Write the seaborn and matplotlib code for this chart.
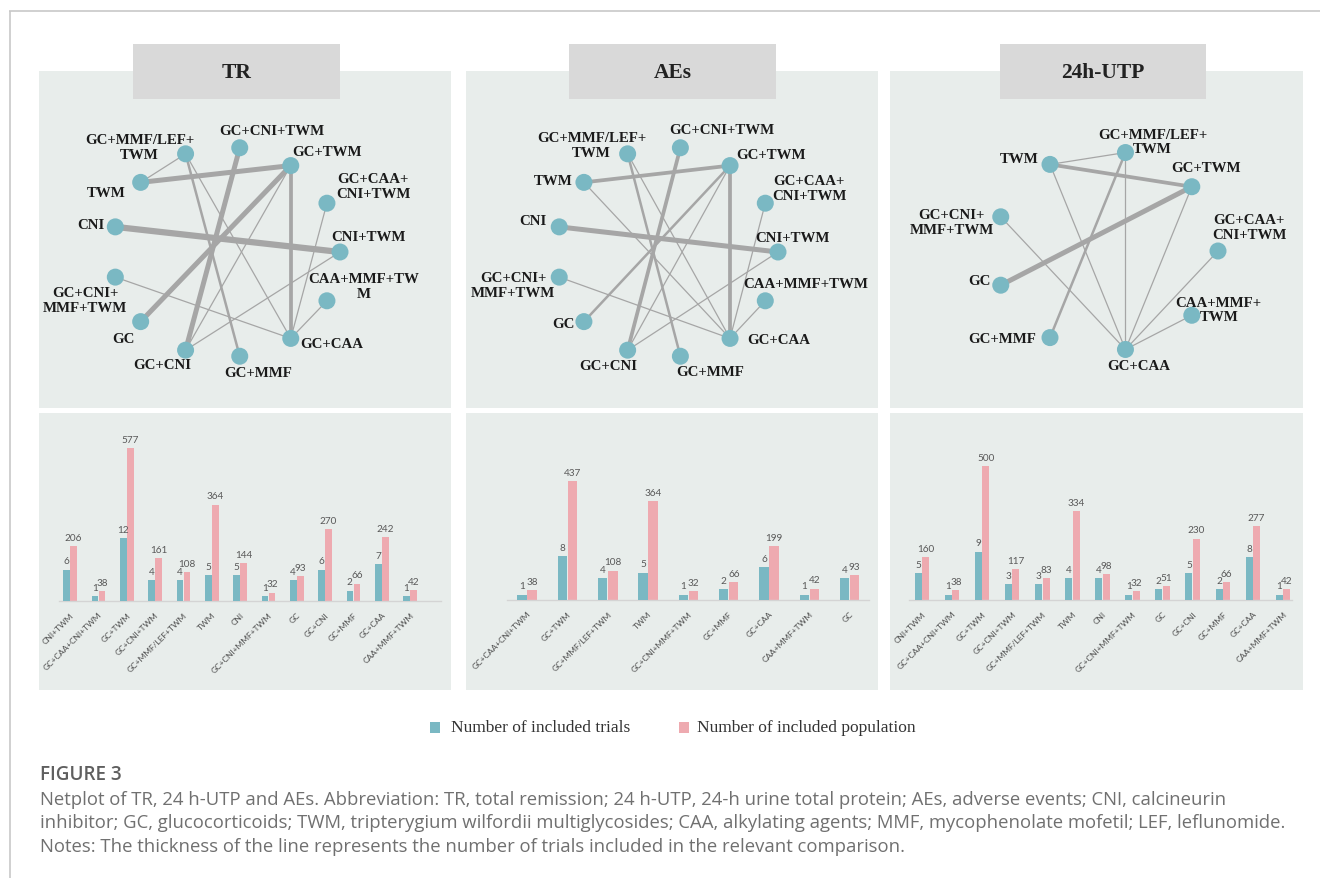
import numpy as np
import matplotlib
matplotlib.use("Agg")
import matplotlib.pyplot as plt
from matplotlib.patches import Rectangle
import seaborn as sns

# ---------------- data ----------------
tr_treatments = ["CNI+TWM", "GC+CAA+CNI+TWM", "GC+TWM", "GC+CNI+TWM", "GC+MMF/LEF+TWM",
                 "TWM", "CNI", "GC+CNI+MMF+TWM", "GC", "GC+CNI", "GC+MMF", "GC+CAA",
                 "CAA+MMF+TWM"]
tr_trials = [6, 1, 12, 4, 4, 5, 5, 1, 4, 6, 2, 7, 1]
tr_population = [206, 38, 577, 161, 108, 364, 144, 32, 93, 270, 66, 242, 42]

ae_treatments = ["GC+CAA+CNI+TWM", "GC+TWM", "GC+MMF/LEF+TWM", "TWM", "GC+CNI+MMF+TWM",
                 "GC+MMF", "GC+CAA", "CAA+MMF+TWM", "GC"]
ae_trials = [1, 8, 4, 5, 1, 2, 6, 1, 4]
ae_population = [38, 437, 108, 364, 32, 66, 199, 42, 93]

utp_treatments = ["CNI+TWM", "GC+CAA+CNI+TWM", "GC+TWM", "GC+CNI+TWM", "GC+MMF/LEF+TWM",
                  "TWM", "CNI", "GC+CNI+MMF+TWM", "GC", "GC+CNI", "GC+MMF", "GC+CAA",
                  "CAA+MMF+TWM"]
utp_trials = [5, 1, 9, 3, 3, 4, 4, 1, 2, 5, 2, 8, 1]
utp_population = [160, 38, 500, 117, 83, 334, 98, 32, 51, 230, 66, 277, 42]

# network nodes, listed counter-clockwise starting from the right-hand side
tr_nodes = ["CNI+TWM", "GC+CAA+CNI+TWM", "GC+TWM", "GC+CNI+TWM", "GC+MMF/LEF+TWM", "TWM",
            "CNI", "GC+CNI+MMF+TWM", "GC", "GC+CNI", "GC+MMF", "GC+CAA", "CAA+MMF+TWM"]
ae_nodes = tr_nodes
utp_nodes = ["GC+CAA+CNI+TWM", "GC+TWM", "GC+MMF/LEF+TWM", "TWM", "GC+CNI+MMF+TWM", "GC",
             "GC+MMF", "GC+CAA", "CAA+MMF+TWM"]

# comparisons: (treatment A, treatment B, number of trials)
tr_edges = [("TWM", "GC+MMF/LEF+TWM", 1), ("TWM", "GC+TWM", 4),
            ("GC+MMF/LEF+TWM", "GC+MMF", 2), ("GC+MMF/LEF+TWM", "GC+CAA", 1),
            ("GC+CNI+TWM", "GC+CNI", 4), ("GC+TWM", "GC", 4), ("GC+TWM", "GC+CAA", 3),
            ("GC+TWM", "GC+CNI", 1), ("GC+CAA+CNI+TWM", "GC+CAA", 1), ("CNI", "CNI+TWM", 5),
            ("CNI+TWM", "GC+CNI", 1), ("GC+CNI+MMF+TWM", "GC+CAA", 1),
            ("CAA+MMF+TWM", "GC+CAA", 1)]
ae_edges = [("TWM", "GC+TWM", 3), ("TWM", "GC+CAA", 1),
            ("GC+MMF/LEF+TWM", "GC+MMF", 2), ("GC+MMF/LEF+TWM", "GC+CAA", 1),
            ("GC+CNI+TWM", "GC+CNI", 3), ("GC+TWM", "GC", 2), ("GC+TWM", "GC+CAA", 3),
            ("GC+TWM", "GC+CNI", 1), ("GC+CAA+CNI+TWM", "GC+CAA", 1), ("CNI", "CNI+TWM", 4),
            ("CNI+TWM", "GC+CNI", 1), ("GC+CNI+MMF+TWM", "GC+CAA", 1),
            ("CAA+MMF+TWM", "GC+CAA", 1)]
utp_edges = [("TWM", "GC+MMF/LEF+TWM", 1), ("TWM", "GC+TWM", 3), ("TWM", "GC+CAA", 1),
             ("GC+MMF/LEF+TWM", "GC+MMF", 2), ("GC+MMF/LEF+TWM", "GC+CAA", 1),
             ("GC+TWM", "GC", 4), ("GC+TWM", "GC+CAA", 1), ("GC+CNI+MMF+TWM", "GC+CAA", 1),
             ("GC+CAA+CNI+TWM", "GC+CAA", 1), ("CAA+MMF+TWM", "GC+CAA", 1)]

outcome_titles = ["TR", "AEs", "24h-UTP"]
legend_labels = ["Number of included trials", "Number of included population"]
caption_head = "FIGURE 3"
caption_lines = [
    "Netplot of TR, 24 h-UTP and AEs. Abbreviation: TR, total remission; 24 h-UTP, 24-h urine total protein; AEs, adverse events; CNI, calcineurin",
    "inhibitor; GC, glucocorticoids; TWM, tripterygium wilfordii multiglycosides; CAA, alkylating agents; MMF, mycophenolate mofetil; LEF, leflunomide.",
    "Notes: The thickness of the line represents the number of trials included in the relevant comparison.",
]

# ---------------- styling / layout ----------------
W, H = 1320, 879
TEAL = "#7ab8c3"
PINK = "#eeaab0"
PANEL_BG = "#e8edeb"
TITLE_BG = "#d9d9d9"
EDGE_GREY = "#a6a6a6"
SERIF = ["Liberation Serif", "DejaVu Serif"]

sns.set_theme(style="white")
plt.rcParams["font.family"] = ["Lato", "DejaVu Sans"]

# node label text and offset (pixels right, pixels down) for each panel
tr_labels = {
    "CNI+TWM": ("CNI+TWM", 28, -15), "GC+CAA+CNI+TWM": ("GC+CAA+\nCNI+TWM", 46, -17),
    "GC+TWM": ("GC+TWM", 36, -14), "GC+CNI+TWM": ("GC+CNI+TWM", 32, -17),
    "GC+MMF/LEF+TWM": ("GC+MMF/LEF+\nTWM", -46, -7), "TWM": ("TWM", -34, 10),
    "CNI": ("CNI", -24, -2), "GC+CNI+MMF+TWM": ("GC+CNI+\nMMF+TWM", -30, 23),
    "GC": ("GC", -17, 17), "GC+CNI": ("GC+CNI", -23, 14), "GC+MMF": ("GC+MMF", 18, 16),
    "GC+CAA": ("GC+CAA", 41, 5), "CAA+MMF+TWM": ("CAA+MMF+TW\nM", 37, -15),
}
ae_labels = {
    "CNI+TWM": ("CNI+TWM", 14, -14), "GC+CAA+CNI+TWM": ("GC+CAA+\nCNI+TWM", 44, -15),
    "GC+TWM": ("GC+TWM", 41, -11), "GC+CNI+TWM": ("GC+CNI+TWM", 41, -18),
    "GC+MMF/LEF+TWM": ("GC+MMF/LEF+\nTWM", -36, -9), "TWM": ("TWM", -31, -2),
    "CNI": ("CNI", -26, -6), "GC+CNI+MMF+TWM": ("GC+CNI+\nMMF+TWM", -46, 8),
    "GC": ("GC", -20, 2), "GC+CNI": ("GC+CNI", -19, 15), "GC+MMF": ("GC+MMF", 30, 15),
    "GC+CAA": ("GC+CAA", 49, 1), "CAA+MMF+TWM": ("CAA+MMF+TWM", 40, -17),
}
utp_labels = {
    "GC+CAA+CNI+TWM": ("GC+CAA+\nCNI+TWM", 31, -24), "GC+TWM": ("GC+TWM", 14, -19),
    "GC+MMF/LEF+TWM": ("GC+MMF/LEF+\nTWM", 27, -11), "TWM": ("TWM", -31, -6),
    "GC+CNI+MMF+TWM": ("GC+CNI+\nMMF+TWM", -49, 5), "GC": ("GC", -21, -5),
    "GC+MMF": ("GC+MMF", -48, 1), "GC+CAA": ("GC+CAA", 13, 16),
    "CAA+MMF+TWM": ("CAA+MMF+\nTWM", 27, -6),
}

# panel columns in pixels: (left, right)
columns = [(39, 451), (466, 878), (890, 1303)]
net_top, net_bottom = 72, 409
bar_top, bar_bottom = 414, 691
title_boxes = [(133, 340), (569, 776), (1000, 1206)]
# circle layout per network: centre x, centre y, radius x, radius y
circles = [(226, 253, 114, 105), (667, 253, 111, 105), (1106, 252, 112, 100)]
# bar axes: left px, right px, baseline px, x-limits, population axis top, trials axis top
bar_axes = [(59, 441, 602, (-0.39, 13.09), 649, 32.8),
            (507, 869, 601, (-0.5, 8.48), 629, 31.1),
            (909, 1292, 601, (-0.43, 12.3), 640, 31.8)]
BAR_AX_TOP = 430


def fig_rect(x0, y0, x1, y1):
    return [x0 / W, 1 - y1 / H, (x1 - x0) / W, (y1 - y0) / H]


fig = plt.figure(figsize=(W / 100, H / 100), dpi=100)
fig.patch.set_facecolor("white")

# background canvas in pixel units
bg = fig.add_axes([0, 0, 1, 1], zorder=0)
bg.set_xlim(0, W)
bg.set_ylim(H, 0)
bg.axis("off")
bg.plot([9, W], [12, 12], color="#c8c8c8", lw=1.2, solid_capstyle="butt")
bg.plot([10, 10], [12, H], color="#c8c8c8", lw=1.2, solid_capstyle="butt")

for (x0, x1), (tx0, tx1), title in zip(columns, title_boxes, outcome_titles):
    bg.add_patch(Rectangle((x0, net_top), x1 - x0, net_bottom - net_top, color=PANEL_BG, lw=0))
    bg.add_patch(Rectangle((x0, bar_top), x1 - x0, bar_bottom - bar_top, color=PANEL_BG, lw=0))
    bg.add_patch(Rectangle((tx0, 45), tx1 - tx0, 55, color=TITLE_BG, lw=0, zorder=3))
    bg.text((tx0 + tx1) / 2, 73, title, ha="center", va="center", fontsize=15.5,
            fontweight="bold", family=SERIF, color="#222222", zorder=4)

# legend
for (sx, tx), label, col in zip([(430, 451), (679, 697)], legend_labels, [TEAL, PINK]):
    bg.add_patch(Rectangle((sx, 723), 10, 11, color=col, lw=0))
    bg.text(tx, 728.5, label, ha="left", va="center", fontsize=12.5, family=SERIF,
            color="#333333")

# caption
bg.text(40, 775, caption_head, ha="left", va="center", fontsize=13.6, family=["Open Sans"],
        fontweight="semibold", color="#5f5f5f")
for i, line in enumerate(caption_lines):
    bg.text(40, 800 + 23.3 * i, line, ha="left", va="center", fontsize=13.3,
            family=["Open Sans"], color="#707070")


def draw_network(col, circ, nodes, edges, labels):
    x0, x1 = col
    cx, cy, rx, ry = circ
    ax = fig.add_axes(fig_rect(x0, net_top, x1, net_bottom), zorder=2)
    ax.set_facecolor("none")
    ax.set_xlim((x0 - cx) / rx, (x1 - cx) / rx)
    ax.set_ylim((cy - net_bottom) / ry, (cy - net_top) / ry)
    ax.axis("off")
    ang = 2 * np.pi * np.arange(len(nodes)) / len(nodes)
    pos = {n: (np.cos(a), np.sin(a)) for n, a in zip(nodes, ang)}
    for a, b, w in edges:
        ax.plot([pos[a][0], pos[b][0]], [pos[a][1], pos[b][1]], color=EDGE_GREY,
                lw=0.9 * w, solid_capstyle="butt", zorder=1)
    sns.scatterplot(x=[pos[n][0] for n in nodes], y=[pos[n][1] for n in nodes], ax=ax,
                    s=150, color=TEAL, edgecolor="none", zorder=3, legend=False)
    for n in nodes:
        text, dx, dy = labels[n]
        ax.annotate(text, pos[n], xytext=(dx, -dy), textcoords="offset pixels",
                    ha="center", va="center", fontsize=10.7, fontweight="bold",
                    family=SERIF, color="#1a1a1a", linespacing=1.15, zorder=4)


def draw_bars(spec, cats, trials, population):
    left, right, base, xlim, pop_top, trial_top = spec
    ax = fig.add_axes(fig_rect(left, BAR_AX_TOP, right, base), zorder=2)
    ax.set_facecolor("none")
    ax2 = ax.twinx()
    ax2.set_facecolor("none")
    sns.barplot(x=cats, y=population, ax=ax, color=PINK, width=0.235, saturation=1,
                errorbar=None, edgecolor="none")
    sns.barplot(x=cats, y=trials, ax=ax2, color=TEAL, width=0.235, saturation=1,
                errorbar=None, edgecolor="none")
    for p in ax.containers[0]:
        p.set_x(p.get_x() + 0.125)
    for p in ax2.containers[0]:
        p.set_x(p.get_x() - 0.125)
    n = len(cats)
    for a in (ax, ax2):
        a.set_xlim(*xlim)
        for s in a.spines.values():
            s.set_visible(False)
        a.set_ylabel("")
        a.set_yticks([])
    ax.set_ylim(0, pop_top)
    ax2.set_ylim(0, trial_top)
    ax.spines["bottom"].set_visible(True)
    ax.spines["bottom"].set_color("#d4d4d4")
    ax.spines["bottom"].set_linewidth(1.0)
    ax.bar_label(ax.containers[0], labels=[str(v) for v in population], padding=3,
                 fontsize=7.2, color="#595959")
    ax2.bar_label(ax2.containers[0], labels=[str(v) for v in trials], padding=3,
                  fontsize=7.2, color="#595959")
    ax.set_xticks(range(n))
    ax.set_xticklabels(cats, rotation=45, ha="right", rotation_mode="anchor",
                       fontsize=6.0, color="#4d4d4d")
    ax.tick_params(axis="x", length=0, pad=7)
    ax2.tick_params(axis="x", labelbottom=False, length=0)
    ax2.set_xlabel("")
    ax.set_xlabel("")


for col, circ, nodes, edges, labels in zip(columns, circles, [tr_nodes, ae_nodes, utp_nodes],
                                           [tr_edges, ae_edges, utp_edges],
                                           [tr_labels, ae_labels, utp_labels]):
    draw_network(col, circ, nodes, edges, labels)

for spec, cats, trials, pop in zip(bar_axes, [tr_treatments, ae_treatments, utp_treatments],
                                   [tr_trials, ae_trials, utp_trials],
                                   [tr_population, ae_population, utp_population]):
    draw_bars(spec, cats, trials, pop)

fig.savefig("out.png", dpi=100, facecolor="white")
